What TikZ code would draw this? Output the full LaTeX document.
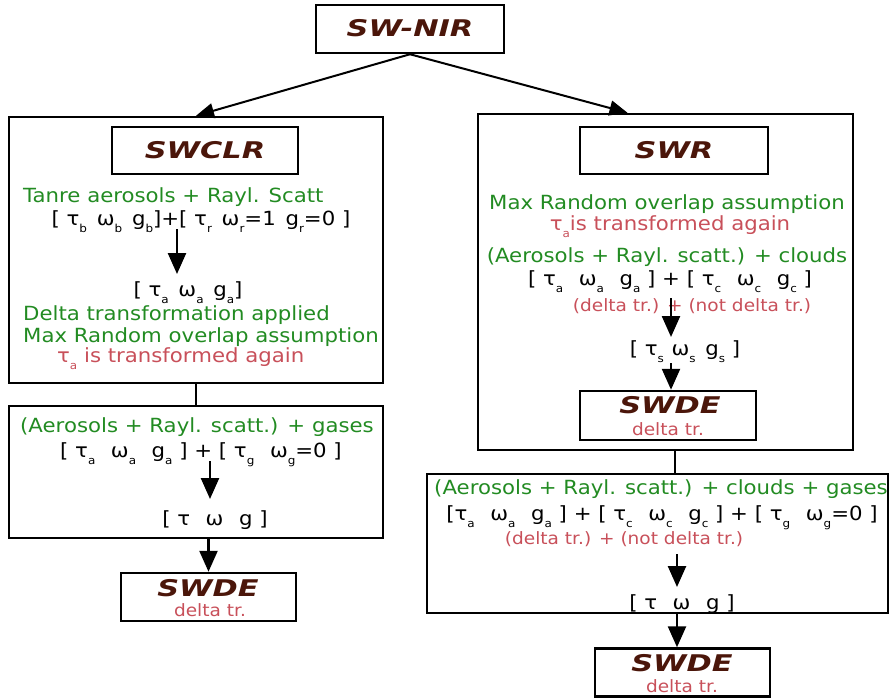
\documentclass[tikz,border=0pt]{standalone}
\usepackage{fontspec}
\setmainfont{DejaVu Sans}[FakeStretch=1.09]
\newfontfamily\titlefont{DejaVu Sans}[FakeStretch=1.32]
\usetikzlibrary{arrows.meta}
\definecolor{tgreen}{RGB}{34,139,34}
\definecolor{tred}{RGB}{200,80,90}
\definecolor{tbrown}{RGB}{75,22,10}
\newcommand\sbs[1]{\raisebox{-0.7ex}{\fontsize{11}{11}\selectfont #1}}
\newcommand\gap{\hspace{0.8em}}
\tikzset{
  box/.style={draw=black, line width=2.5pt, inner sep=0pt},
  txt/.style={inner sep=0pt, font=\fontsize{19.5}{19.5}\selectfont, text height=14.2pt, text depth=0pt},
  gtxt/.style={txt, text=tgreen},
  rtxt/.style={txt, text=tred},
  stxt/.style={inner sep=0pt, font=\fontsize{17}{17}\selectfont, text=tred, text height=12.4pt, text depth=0pt},
  ttl/.style={inner sep=0pt, font=\titlefont\bfseries\itshape\fontsize{23}{23}\selectfont, text=tbrown, text height=16.8pt, text depth=0pt},
  arr/.style={line width=2.5pt, -{Triangle[width=18pt,length=21pt]}},
  thinarr/.style={line width=2pt, -{Triangle[width=15pt,length=18pt]}},
  ln/.style={line width=2.5pt}
}
\begin{document}
\begin{tikzpicture}[x=1pt,y=-1pt]
\useasboundingbox (0,0) rectangle (890,698);
% boxes
\node[box, minimum width=188pt, minimum height=48pt] (nir) at (410,29) {};
\node[box, minimum width=374pt, minimum height=266pt] (lo) at (196,250) {};
\node[box, minimum width=186pt, minimum height=47pt] (swclr) at (205,150.5) {};
\node[box, minimum width=374pt, minimum height=132pt] (lb) at (196,472) {};
\node[box, minimum width=175pt, minimum height=48pt] (lswde) at (208.5,597) {};
\node[box, minimum width=375pt, minimum height=336pt] (ro) at (665.5,282) {};
\node[box, minimum width=188pt, minimum height=47pt] (swr) at (674,150.5) {};
\node[box, minimum width=176pt, minimum height=49pt] (rswde) at (668,415.5) {};
\node[box, minimum width=461pt, minimum height=139pt] (rb) at (657.5,543.5) {};
\node[box, minimum width=175pt, minimum height=48pt] (bswde) at (682.5,672.5) {};
% titles
\node[ttl] (nirt) at (410,28.5) {SW-NIR};
\node[ttl] (swclrt) at (205,150.5) {SWCLR};
\node[ttl] (swrt) at (674,150) {SWR};
\node[ttl] (lswdet) at (208,588.5) {SWDE};
\node[stxt] (lswded) at (210,610) {delta tr.};
\node[ttl] (rswdet) at (670,405) {SWDE};
\node[stxt] (rswded) at (668,429) {delta tr.};
\node[ttl] (bswdet) at (682,663.5) {SWDE};
\node[stxt] (bswded) at (682,686) {delta tr.};
% left upper texts
\node[gtxt, anchor=west] (t1) at (23,195) {Tanre aerosols + Rayl. Scatt};
\node[txt] (t2) at (201,218) {[ τ\sbs{b}\hspace{0.5em}ω\sbs{b}\hspace{0.5em}g\sbs{b}]+[ τ\sbs{r}\hspace{0.5em}ω\sbs{r}=1\hspace{0.5em}g\sbs{r}=0 ]};
\node[txt] (t3) at (188,289) {[ τ\sbs{a}\hspace{0.5em}ω\sbs{a}\hspace{0.5em}g\sbs{a}]};
\node[gtxt, anchor=west] (t4) at (23,313) {Delta transformation applied};
\node[gtxt, anchor=west] (t5) at (23,335) {Max Random overlap assumption};
\node[rtxt, anchor=west] (t6) at (57,355) {τ\sbs{a} is transformed again};
% left lower texts
\node[gtxt] (g1) at (197,425) {(Aerosols + Rayl. scatt.) + gases};
\node[txt] (g2) at (201,450) {[ τ\sbs{a}\gap ω\sbs{a}\gap g\sbs{a} ] + [ τ\sbs{g}\gap ω\sbs{g}=0 ]};
\node[txt] (g3) at (215,518) {[ τ\gap ω\gap g ]};
% right texts
\node[gtxt] (r1) at (667,202) {Max Random overlap assumption};
\node[rtxt] (r2) at (670,223) {τ\sbs{a}is transformed again};
\node[gtxt] (r3) at (667,255) {(Aerosols + Rayl. scatt.) + clouds};
\node[txt] (r4) at (670,278) {[ τ\sbs{a}\gap ω\sbs{a}\gap g\sbs{a} ] + [ τ\sbs{c}\gap ω\sbs{c}\gap g\sbs{c} ]};
\node[stxt] (r5) at (692,305) {(delta tr.) + (not delta tr.)};
\node[txt] (r6) at (685,348) {[ τ\sbs{s}\hspace{0.4em}ω\sbs{s}\hspace{0.5em}g\sbs{s} ]};
% bottom right texts
\node[gtxt] (b1) at (661,487) {(Aerosols + Rayl. scatt.) + clouds + gases};
\node[txt] (b2) at (662,513) {[τ\sbs{a}\gap ω\sbs{a}\gap g\sbs{a} ] + [ τ\sbs{c}\gap ω\sbs{c}\gap g\sbs{c} ] + [ τ\sbs{g}\gap ω\sbs{g}=0 ]};
\node[stxt] (b3) at (624,538) {(delta tr.) + (not delta tr.)};
\node[txt] (b4) at (682,602) {[ τ\gap ω\gap g ]};
% connectors
\draw[thinarr] (nir.south) -- (lo.north);
\draw[thinarr] (nir.south) -- ([xshift=-38pt]ro.north);
\coordinate (a1s) at (177,229);
\coordinate (a1e) at (177,274);
\draw[arr] (a1s) -- (a1e);
\draw[ln] (lo.south) -- (lb.north);
\coordinate (a2s) at (210,461);
\coordinate (a2e) at (210,499);
\draw[arr] (a2s) -- (a2e);
\draw[arr] (lb.south -| lswde.north) -- (lswde.north);
\coordinate (a3s) at (671,298);
\coordinate (a3e) at (671,337);
\draw[arr] (a3s) -- (a3e);
\coordinate (a4s) at (671,363);
\draw[arr] (a4s) -- (a4s |- rswde.north);
\coordinate (c1) at (675,450);
\draw[ln] (c1) -- (c1 |- rb.north);
\coordinate (a5s) at (677,554);
\coordinate (a5e) at (677,587);
\draw[arr] (a5s) -- (a5e);
\coordinate (a6s) at (677,613);
\draw[arr] (a6s) -- (a6s |- bswde.north);
\end{tikzpicture}
\end{document}
